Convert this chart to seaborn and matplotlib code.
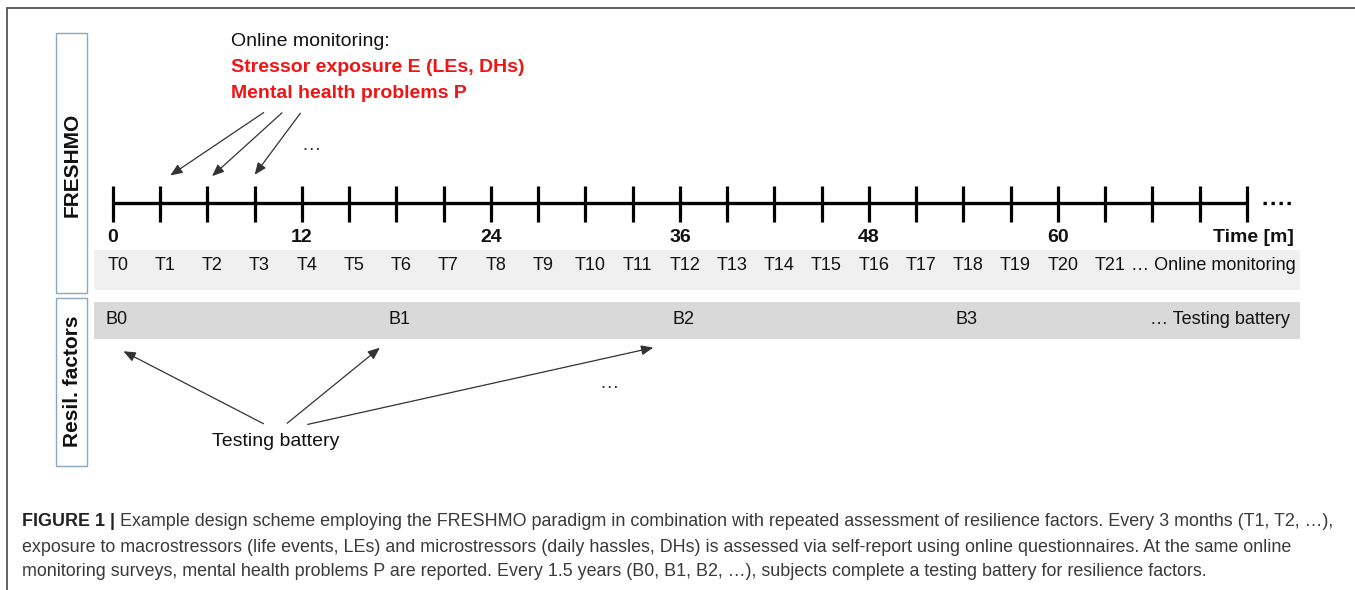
import matplotlib
matplotlib.use("Agg")
import matplotlib.pyplot as plt
from matplotlib.patches import Rectangle
import seaborn as sns
import pandas as pd

# === Data ===
tick_months = [0, 3, 6, 9, 12, 15, 18, 21, 24, 27, 30, 33, 36,
               39, 42, 45, 48, 51, 54, 57, 60, 63, 66, 69, 72]
month_labels = [0, 12, 24, 36, 48, 60]
t_months = [0, 3, 6, 9, 12, 15, 18, 21, 24, 27, 30,
            33, 36, 39, 42, 45, 48, 51, 54, 57, 60, 63]
t_labels = ["T0", "T1", "T2", "T3", "T4", "T5", "T6", "T7", "T8", "T9", "T10",
            "T11", "T12", "T13", "T14", "T15", "T16", "T17", "T18", "T19", "T20", "T21"]
b_months = [0, 18, 36, 54]
b_labels = ["B0", "B1", "B2", "B3"]

caption_bold = "FIGURE 1 |"
caption_lines = [
    " Example design scheme employing the FRESHMO paradigm in combination with repeated assessment of resilience factors. Every 3 months (T1, T2, \u2026),",
    "exposure to macrostressors (life events, LEs) and microstressors (daily hassles, DHs) is assessed via self-report using online questionnaires. At the same online",
    "monitoring surveys, mental health problems P are reported. Every 1.5 years (B0, B1, B2, \u2026), subjects complete a testing battery for resilience factors.",
]

sns.set_theme(style="white")
plt.rcParams["font.family"] = ["Liberation Sans", "DejaVu Sans"]

W, H = 1355, 590
fig = plt.figure(figsize=(W / 100, H / 100), dpi=100)

# pixel-space axes for the decorations
ax0 = fig.add_axes([0, 0, 1, 1])
ax0.set_xlim(0, W)
ax0.set_ylim(H, 0)
ax0.axis("off")

# month-space axes for the timeline (month 0 at px 113, month 72 at px 1247)
ax = fig.add_axes([0, 0, 1, 1])
ax.set_xlim((0 - 113) / 15.75, (W - 113) / 15.75)
ax.set_ylim(H, 0)
ax.axis("off")
ax.patch.set_alpha(0)

# outer frame
ax0.plot([7, 7], [8, H], color="#555555", lw=1.3)
ax0.plot([7, W], [8, 8], color="#555555", lw=1.3)

# side boxes
box_col = "#8aa6c1"
ax0.add_patch(Rectangle((56, 33), 31, 260, fill=False, ec=box_col, lw=1.0))
ax0.add_patch(Rectangle((56, 298), 31, 168, fill=False, ec=box_col, lw=1.0))
ax0.text(72, 165, "FRESHMO", rotation=90, ha="center", va="center",
         fontsize=15, fontweight="bold", color="#111111")
ax0.text(72, 381, "Resil. factors", rotation=90, ha="center", va="center",
         fontsize=15, fontweight="bold", color="#111111")

# gray bands
ax0.add_patch(Rectangle((94, 250), 1206, 40, color="#f0f0f0", lw=0))
ax0.add_patch(Rectangle((94, 302), 1206, 37, color="#d9d9d9", lw=0))

# timeline
line_df = pd.DataFrame({"month": tick_months, "y": [203] * len(tick_months)})
sns.lineplot(data=line_df, x="month", y="y", ax=ax, color="black", lw=2.4)
ax.vlines(tick_months, 186, 222, color="black", lw=2.3)
ax.plot([73.0, 74.9], [203, 203], color="black", lw=2.4, ls=(0, (1, 1.4)))

for m in month_labels:
    ax.text(m, 237, str(m), ha="center", va="center", fontsize=14,
            fontweight="bold", color="#111111")
ax.text(74.95, 237, "Time [m]", ha="right", va="center", fontsize=14,
        fontweight="bold", color="#111111")

for m, lab in zip(t_months, t_labels):
    ax.text(m + 0.3, 266, lab, ha="center", va="center", fontsize=13, color="#111111")
ax.text(75.1, 266, "\u2026 Online monitoring", ha="right", va="center",
        fontsize=13, color="#111111")

for m, lab in zip(b_months, b_labels):
    ax.text(m + 0.2, 320, lab, ha="center", va="center", fontsize=13, color="#111111")
ax.text(74.7, 320, "\u2026 Testing battery", ha="right", va="center",
        fontsize=13, color="#111111")

# top annotation
ax0.text(231, 42, "Online monitoring:", ha="left", va="center", fontsize=14, color="#111111")
ax0.text(231, 68, "Stressor exposure E (LEs, DHs)", ha="left", va="center",
         fontsize=14, fontweight="bold", color="#f01414")
ax0.text(231, 93, "Mental health problems P", ha="left", va="center",
         fontsize=14, fontweight="bold", color="#f01414")

arrow_kw = dict(arrowstyle="-|>,head_length=0.6,head_width=0.25", color="#333333", lw=0.9)
for (x0, y0), (x1, y1) in [((266, 111), (168, 177)), ((284, 111), (210, 178)),
                           ((302, 111), (253, 177))]:
    ax0.annotate("", xy=(x1, y1), xytext=(x0, y0), arrowprops=arrow_kw)
ax0.text(311, 146, "\u2026", ha="center", va="center", fontsize=14, color="#333333")

# bottom annotation
ax0.text(276, 441, "Testing battery", ha="center", va="center", fontsize=14, color="#111111")
for (x0, y0), (x1, y1) in [((266, 425), (121, 350)), ((285, 425), (382, 346)),
                           ((305, 425), (656, 347))]:
    ax0.annotate("", xy=(x1, y1), xytext=(x0, y0), arrowprops=arrow_kw)
ax0.text(609, 383, "\u2026", ha="center", va="center", fontsize=14, color="#333333")

# caption
cap_size = 12.9
t_bold = ax0.text(22, 522, caption_bold, ha="left", va="center", fontsize=cap_size,
                  fontweight="bold", color="#222222")
ax0.annotate(caption_lines[0], xy=(1, 0.5), xycoords=t_bold, ha="left", va="center",
             fontsize=cap_size, color="#3a3a3a")
ax0.text(22, 547, caption_lines[1], ha="left", va="center", fontsize=cap_size,
         color="#3a3a3a")
ax0.text(22, 571, caption_lines[2], ha="left", va="center", fontsize=cap_size,
         color="#3a3a3a")

fig.savefig("out.png", dpi=100)
